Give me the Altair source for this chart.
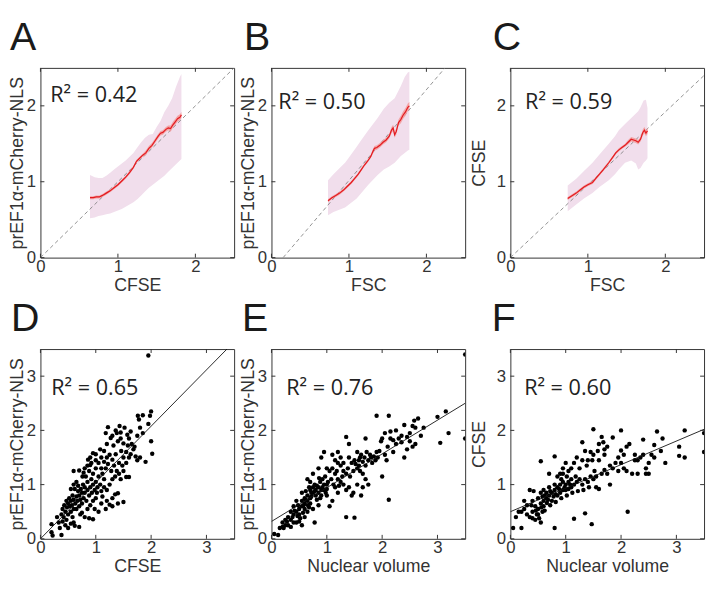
import altair as alt
import pandas as pd

FONT_AX = "Liberation Sans"
FONT_TXT = "Open Sans"
W, H = 197, 193
TXT = "#333333"

# ---------------- top row data (binned means) ----------------
A_LINE_X = [0.64, 0.68, 0.72, 0.76, 0.80, 0.85, 0.90, 0.95, 1.00, 1.05, 1.10, 1.15, 1.20, 1.24, 1.28, 1.32,
            1.36, 1.40, 1.44, 1.48, 1.52, 1.55, 1.58, 1.62, 1.65, 1.68, 1.71, 1.74, 1.77, 1.80, 1.82]
A_LINE_Y = [0.79, 0.79, 0.80, 0.80, 0.82, 0.85, 0.88, 0.92, 0.96, 1.01, 1.06, 1.12, 1.19, 1.27, 1.31, 1.35,
            1.38, 1.44, 1.48, 1.54, 1.60, 1.64, 1.65, 1.69, 1.71, 1.70, 1.75, 1.79, 1.83, 1.85, 1.88]
A_CI = [0.02, 0.02, 0.02, 0.02, 0.02, 0.02, 0.02, 0.02, 0.02, 0.02, 0.02, 0.02, 0.02, 0.02, 0.02, 0.02,
        0.03, 0.03, 0.03, 0.03, 0.03, 0.03, 0.03, 0.03, 0.03, 0.04, 0.04, 0.04, 0.04, 0.04, 0.04]
A_BAND_X = [0.64, 0.70, 0.75, 0.80, 0.85, 0.90, 0.95, 1.00, 1.05, 1.10, 1.15, 1.20, 1.25, 1.30, 1.35, 1.40,
            1.45, 1.50, 1.55, 1.60, 1.65, 1.70, 1.75, 1.80, 1.82]
A_BAND_HI = [1.09, 1.06, 1.05, 1.05, 1.08, 1.12, 1.16, 1.20, 1.24, 1.28, 1.33, 1.38, 1.45, 1.52, 1.58, 1.62,
             1.63, 1.72, 1.80, 1.92, 2.00, 2.10, 2.25, 2.38, 2.42]
A_BAND_LO = [0.52, 0.53, 0.55, 0.56, 0.57, 0.58, 0.60, 0.62, 0.64, 0.67, 0.70, 0.73, 0.77, 0.82, 0.87, 0.92,
             0.96, 1.00, 1.04, 1.08, 1.13, 1.18, 1.23, 1.28, 1.30]
A_DASH = [(0.0, 0.0), (2.5, 2.5)]

B_LINE_X = [0.73, 0.78, 0.83, 0.88, 0.93, 0.98, 1.03, 1.08, 1.12, 1.16, 1.20, 1.24, 1.28, 1.31, 1.33, 1.36,
            1.40, 1.44, 1.48, 1.52, 1.55, 1.57, 1.59, 1.61, 1.64, 1.67, 1.70, 1.73, 1.76, 1.78]
B_LINE_Y = [0.75, 0.79, 0.82, 0.85, 0.89, 0.94, 0.99, 1.05, 1.10, 1.16, 1.22, 1.27, 1.33, 1.40, 1.44, 1.45,
            1.48, 1.52, 1.55, 1.60, 1.68, 1.71, 1.62, 1.66, 1.78, 1.82, 1.88, 1.92, 1.98, 2.00]
B_CI = [0.02, 0.02, 0.02, 0.02, 0.02, 0.02, 0.02, 0.02, 0.02, 0.02, 0.02, 0.02, 0.02, 0.03, 0.03, 0.03,
        0.03, 0.03, 0.03, 0.03, 0.04, 0.04, 0.04, 0.04, 0.04, 0.05, 0.05, 0.05, 0.05, 0.05]
B_BAND_X = [0.73, 0.80, 0.90, 0.95, 1.00, 1.10, 1.16, 1.25, 1.37, 1.45, 1.52, 1.59, 1.67, 1.72, 1.76, 1.78]
B_BAND_HI = [1.02, 1.10, 1.20, 1.25, 1.32, 1.46, 1.55, 1.68, 1.84, 1.96, 2.04, 2.10, 2.26, 2.38, 2.44, 2.45]
B_BAND_LO = [0.56, 0.60, 0.64, 0.66, 0.70, 0.78, 0.85, 0.96, 1.09, 1.16, 1.20, 1.25, 1.34, 1.38, 1.41, 1.42]
B_DASH = [(0.15, 0.0), (2.24, 2.5)]

C_LINE_X = [0.74, 0.80, 0.85, 0.90, 0.95, 1.00, 1.06, 1.10, 1.15, 1.20, 1.27, 1.32, 1.36, 1.40, 1.44, 1.48,
            1.52, 1.56, 1.59, 1.62, 1.65, 1.68, 1.71, 1.73, 1.75, 1.77]
C_LINE_Y = [0.78, 0.82, 0.85, 0.89, 0.93, 0.96, 0.99, 1.04, 1.10, 1.16, 1.25, 1.32, 1.38, 1.42, 1.45, 1.48,
            1.52, 1.56, 1.55, 1.54, 1.52, 1.56, 1.65, 1.68, 1.64, 1.67]
C_CI = [0.02, 0.02, 0.02, 0.02, 0.02, 0.02, 0.02, 0.02, 0.02, 0.02, 0.02, 0.02, 0.02, 0.02, 0.02, 0.02,
        0.03, 0.03, 0.03, 0.03, 0.03, 0.03, 0.04, 0.04, 0.04, 0.04]
C_BAND_X = [0.74, 0.85, 0.95, 1.06, 1.15, 1.27, 1.35, 1.40, 1.48, 1.56, 1.62, 1.65, 1.68, 1.72, 1.75, 1.77]
C_BAND_HI = [0.95, 1.04, 1.14, 1.25, 1.36, 1.50, 1.60, 1.68, 1.76, 1.84, 1.90, 1.93, 1.98, 2.07, 2.08, 1.97]
C_BAND_LO = [0.61, 0.70, 0.78, 0.85, 0.93, 1.02, 1.10, 1.16, 1.25, 1.28, 1.24, 1.16, 1.18, 1.25, 1.28, 1.31]
C_DASH = [(0.0, 0.0), (2.5, 2.4)]

# ---------------- bottom row data (single cells) ----------------
D_POINTS = [
    (1.95, 3.38),
    (2.00, 2.35), (1.98, 2.27), (1.85, 2.28), (1.76, 2.27), (1.78, 2.20), (1.95, 2.12), (2.00, 1.80), (2.02, 1.57),
    (1.90, 1.42), (1.80, 1.50), (1.75, 1.45), (1.72, 1.52),
    (1.63, 1.98), (1.60, 1.85), (1.57, 1.92), (1.52, 2.05), (1.43, 2.08), (1.45, 1.96), (1.36, 2.00), (1.22, 2.06),
    (1.18, 1.95), (1.27, 1.86), (1.32, 1.72), (1.40, 1.80), (1.50, 1.76), (1.58, 1.72), (1.63, 1.56), (1.50, 1.50),
    (1.42, 1.40), (1.46, 1.62), (1.36, 1.56), (1.30, 1.46), (1.20, 1.50), (1.10, 1.50), (1.00, 1.56), (0.95, 1.58),
    (0.90, 1.50), (0.86, 1.46), (0.90, 1.36), (0.80, 1.30), (0.70, 1.26), (0.60, 1.25), (0.76, 1.15),
    (1.60, 1.14), (1.55, 1.14), (1.40, 0.84), (1.35, 0.82), (1.40, 0.65), (1.50, 0.68), (1.30, 0.75), (1.25, 0.63),
    (1.20, 0.70), (1.10, 0.65), (1.05, 0.50), (0.95, 0.36), (0.88, 0.38),
    (1.65, 1.75), (1.68, 1.65), (1.55, 1.60), (1.48, 1.35), (1.38, 1.25), (1.33, 1.35), (1.28, 1.25), (1.25, 1.55),
    (1.22, 1.38), (1.18, 1.30), (1.15, 1.42), (1.12, 1.20), (1.15, 1.10), (1.10, 1.30), (1.08, 1.00), (1.05, 1.40),
    (1.05, 1.15), (1.03, 0.95), (1.00, 1.30), (1.00, 1.05), (0.98, 0.90), (0.95, 1.20), (0.95, 1.00), (0.93, 0.85),
    (0.92, 1.10), (0.90, 0.95), (0.88, 1.25), (0.88, 0.80), (0.85, 1.05), (0.85, 0.90), (0.83, 0.70), (0.82, 1.15),
    (0.80, 0.85), (0.80, 0.95), (0.78, 0.75), (0.77, 1.00), (0.75, 0.65), (0.75, 0.85), (0.73, 0.92), (0.72, 0.72),
    (0.70, 0.80), (0.70, 0.60), (0.68, 0.88), (0.67, 0.70), (0.65, 0.55), (0.65, 0.78), (0.63, 0.65), (0.62, 0.92),
    (0.60, 0.72), (0.60, 0.55), (0.58, 0.80), (0.57, 0.62), (0.55, 0.70), (0.55, 0.50), (0.53, 0.60), (0.52, 0.75),
    (0.50, 0.65), (0.50, 0.45), (0.48, 0.58), (0.47, 0.70), (0.45, 0.50), (0.43, 0.62), (0.42, 0.40), (0.40, 0.55),
    (0.38, 0.45),
    (0.20, 0.27), (0.20, 0.12), (0.22, 0.06), (0.30, 0.40), (0.35, 0.20), (0.38, 0.07), (0.40, 0.32), (0.45, 0.25),
    (0.50, 0.20), (0.55, 0.28), (0.60, 0.30), (0.62, 0.24), (0.70, 0.22), (0.72, 0.45), (0.80, 0.40), (0.85, 0.55),
    (0.90, 0.62), (0.95, 0.70), (1.00, 0.75), (1.02, 0.85), (1.10, 0.88), (1.15, 0.95), (1.20, 0.90), (1.25, 1.00),
    (1.30, 1.10), (1.35, 1.15), (1.42, 1.20), (1.45, 1.10), (1.50, 1.25), (1.55, 1.40), (1.60, 1.50), (1.70, 1.70),
    (1.75, 1.90), (1.80, 2.05), (1.85, 1.95), (1.45, 1.85), (1.38, 1.95), (1.30, 1.90), (1.20, 1.75), (1.15, 1.62),
    (1.08, 1.65), (1.00, 1.45), (0.92, 1.40), (0.85, 1.35), (0.65, 1.05), (0.60, 1.00), (0.55, 0.92), (0.68, 0.98),
    (0.78, 1.22), (1.12, 0.78), (1.18, 0.55), (1.30, 0.60), (0.98, 0.55), (0.75, 0.48), (0.58, 0.40), (0.47, 0.35),
    (0.33, 0.30),
]
D_FIT = [(0.0, 0.0), (3.37, 3.5)]

E_POINTS = [
    (3.50, 3.40), (3.50, 1.85), (0.05, 0.09), (0.12, 0.07), (2.12, 0.72), (1.35, 0.40), (1.50, 0.39), (1.90, 2.27),
    (2.12, 2.27),
    (3.05, 1.77), (3.00, 2.25), (3.15, 2.35), (3.20, 1.95), (2.75, 2.05), (2.65, 2.22), (2.58, 2.18), (2.55, 2.08),
    (2.50, 1.95), (2.45, 1.88), (2.40, 2.10), (2.35, 1.90), (2.30, 1.85), (2.25, 1.75), (2.20, 1.82), (2.15, 1.98),
    (2.05, 1.95), (2.00, 1.85), (1.98, 1.80), (1.95, 1.62), (2.05, 1.55), (2.00, 1.15), (2.40, 1.50), (2.45, 1.65),
    (2.60, 1.75), (2.70, 1.90), (2.25, 2.00), (2.55, 1.70), (2.10, 1.70), (2.20, 1.60), (2.08, 1.45), (2.60, 2.05),
    (2.35, 1.78), (2.15, 1.85), (2.50, 1.80), (1.92, 1.50), (1.88, 1.45),
    (1.70, 1.85), (1.55, 1.60), (1.60, 1.50), (1.65, 1.42), (1.70, 1.35), (1.75, 1.45), (1.80, 1.50), (1.85, 1.52),
    (1.50, 1.45), (1.45, 1.40), (1.40, 1.50), (1.55, 1.30), (1.60, 1.25), (1.65, 1.20), (1.70, 1.10), (1.75, 1.00),
    (1.65, 0.95), (1.55, 1.00), (1.48, 0.85), (1.45, 0.80), (1.62, 0.80), (1.40, 0.95), (1.35, 1.20), (1.30, 1.25),
    (1.25, 1.35), (1.20, 1.40), (1.15, 1.45), (1.30, 1.40), (1.35, 1.88), (1.40, 1.75), (1.20, 1.60), (1.25, 1.50),
    (1.10, 1.30), (1.05, 1.25), (1.00, 1.30), (1.15, 1.20), (1.20, 1.10), (1.25, 1.05), (1.30, 1.00), (1.35, 0.90),
    (1.20, 0.85), (1.15, 0.95), (1.10, 0.70), (1.05, 0.60), (1.00, 0.80), (0.95, 1.60), (0.90, 1.50), (0.85, 1.30),
    (1.10, 1.55), (1.58, 1.45), (1.62, 1.55), (1.68, 1.50), (1.52, 1.38), (1.58, 1.35), (1.72, 1.60), (1.78, 1.55),
    (1.48, 1.25), (1.42, 1.15), (1.38, 1.30), (1.28, 1.15), (1.18, 1.25), (1.08, 1.10), (1.02, 1.05), (1.12, 1.00),
    (1.22, 0.98), (1.82, 1.40), (1.90, 1.60),
    (0.40, 0.60), (0.45, 0.50), (0.50, 0.55), (0.50, 0.45), (0.55, 0.60), (0.55, 0.70), (0.60, 0.65), (0.60, 0.75),
    (0.60, 0.55), (0.65, 0.80), (0.65, 0.70), (0.70, 0.90), (0.70, 0.75), (0.70, 0.65), (0.75, 0.85), (0.75, 0.95),
    (0.78, 1.00), (0.80, 0.80), (0.80, 0.90), (0.85, 0.95), (0.85, 0.85), (0.88, 1.05), (0.90, 0.90), (0.90, 0.80),
    (0.95, 1.00), (0.95, 0.90), (1.00, 1.00), (1.00, 0.92), (0.65, 1.10), (0.70, 1.05), (0.75, 1.20), (0.55, 0.85),
    (0.45, 0.70), (0.40, 0.45), (0.35, 0.35), (0.30, 0.40), (0.25, 0.35), (0.20, 0.30), (0.30, 0.25), (0.25, 0.25),
    (0.20, 0.22), (0.15, 0.20), (0.35, 0.22), (0.45, 0.30), (0.50, 0.32), (0.55, 0.25), (0.60, 0.40), (0.52, 0.38),
    (0.40, 0.30), (0.78, 0.30), (0.65, 0.50), (0.75, 0.55), (0.85, 0.62), (0.62, 0.88), (0.68, 0.95), (0.72, 0.78),
    (0.82, 0.98), (0.88, 0.75), (0.92, 1.10), (0.98, 0.85), (0.58, 0.62), (0.48, 0.62), (0.42, 0.52), (0.38, 0.40),
    (0.62, 0.72), (0.68, 0.58), (0.72, 0.85), (0.82, 0.72), (0.92, 0.95), (0.97, 1.15), (0.86, 1.12), (0.78, 0.88),
    (0.66, 0.62), (0.57, 0.48), (0.47, 0.42), (0.35, 0.50), (0.28, 0.32), (0.22, 0.20),
]
E_FIT = [(0.0, 0.32), (3.5, 2.50)]

F_POINTS = [
    (0.05, 0.20), (0.20, 0.20), (0.80, 0.20), (1.47, 0.27), (1.15, 0.37), (1.35, 0.47), (2.12, 0.50), (3.50, 1.60),
    (3.50, 1.95), (3.15, 2.00), (2.65, 1.98), (1.50, 2.02), (2.00, 2.00),
    (3.05, 1.70), (3.05, 1.53), (3.15, 1.50), (2.80, 1.40), (2.72, 1.62), (2.60, 1.73), (2.55, 1.55), (2.50, 1.40),
    (2.50, 1.20), (2.45, 1.30), (2.40, 1.83), (2.40, 1.55), (2.35, 1.50), (2.30, 1.20), (2.25, 1.45), (2.20, 1.20),
    (2.15, 1.75), (2.10, 1.70), (2.05, 1.55), (2.00, 1.63), (2.05, 1.30), (2.10, 1.25), (1.95, 1.50), (1.90, 1.40),
    (1.85, 1.30), (1.80, 1.35), (1.80, 1.00), (1.75, 1.20), (1.70, 1.27), (1.65, 1.20), (1.60, 1.45), (1.55, 1.15),
    (1.60, 0.92), (1.55, 0.95), (2.60, 1.50), (2.75, 1.85), (2.45, 1.20), (2.25, 1.55), (2.30, 1.45), (2.00, 1.40),
    (1.95, 1.25),
    (1.30, 1.78), (1.40, 1.45), (1.45, 1.60), (1.50, 1.55), (1.60, 1.75), (1.65, 1.88), (1.70, 1.65), (1.75, 1.70),
    (1.85, 1.87), (1.70, 1.55), (1.35, 1.62), (1.30, 1.45), (1.20, 1.50), (1.15, 1.40), (1.10, 1.30), (1.00, 1.40),
    (0.95, 1.30), (0.80, 1.52), (0.55, 1.43), (0.70, 1.20), (1.68, 1.78), (1.58, 1.62), (1.48, 1.45), (1.38, 1.35),
    (1.25, 1.30), (1.05, 1.25), (0.90, 1.20), (0.85, 1.15),
    (0.40, 0.50), (0.40, 0.70), (0.45, 0.60), (0.50, 0.55), (0.50, 0.45), (0.50, 0.75), (0.55, 0.65), (0.55, 0.85),
    (0.60, 0.70), (0.60, 0.60), (0.60, 0.90), (0.65, 0.75), (0.65, 0.85), (0.70, 0.80), (0.70, 0.95), (0.75, 0.85),
    (0.75, 0.70), (0.80, 0.90), (0.80, 1.00), (0.85, 0.95), (0.85, 0.80), (0.90, 1.00), (0.90, 0.85), (0.95, 1.05),
    (0.95, 0.90), (1.00, 1.00), (1.00, 0.90), (1.05, 1.05), (1.10, 1.10), (1.10, 0.95), (1.15, 1.00), (1.20, 1.05),
    (1.25, 1.10), (1.30, 1.00), (1.35, 1.10), (1.40, 1.05), (1.45, 1.15), (1.50, 1.10), (1.52, 1.25), (1.42, 0.95),
    (1.32, 0.90), (1.22, 0.88), (1.12, 0.85), (1.02, 0.80), (0.92, 0.75), (0.82, 0.68), (0.72, 0.62), (0.62, 0.52),
    (0.52, 0.38), (0.58, 0.78), (0.68, 0.72), (0.78, 0.78), (0.88, 0.92), (0.98, 0.95), (1.08, 1.00), (1.18, 1.15),
    (0.66, 0.66), (0.56, 0.58), (0.46, 0.52), (0.72, 0.88), (0.82, 0.82), (0.92, 1.10), (1.02, 1.15), (0.62, 0.80),
    (0.95, 1.20), (1.05, 0.92),
    (0.10, 0.40), (0.15, 0.50), (0.20, 0.50), (0.25, 0.55), (0.30, 0.45), (0.35, 0.40), (0.40, 0.38), (0.25, 0.70),
    (0.35, 0.90), (0.45, 0.35), (0.55, 0.30), (0.30, 0.62), (0.38, 0.62), (0.48, 0.45), (0.58, 0.50), (0.42, 0.88),
]
F_FIT = [(0.0, 0.50), (3.5, 2.02)]

TOP_TICKS = [0, 1, 2]
BOTTOM_TICKS = [0, 1, 2, 3]


def make_encoders(dom, ticks, xt, yt, tpad):
    def xe(field):
        return alt.X(f"{field}:Q", scale=alt.Scale(domain=dom, nice=False, zero=False),
                     axis=alt.Axis(values=ticks, title=xt, format="d"))

    def ye(field):
        return alt.Y(f"{field}:Q", scale=alt.Scale(domain=dom, nice=False, zero=False),
                     axis=alt.Axis(values=ticks, title=yt, format="d", titlePadding=tpad))
    return xe, ye


def tick_layers(ticks, xe, ye):
    df = pd.DataFrame({"t": ticks})
    base = alt.Chart(df).mark_rule(color="#333", strokeWidth=1)
    return [
        base.encode(x=xe("t"), y=alt.value(H), y2=alt.value(H - 4)),
        base.encode(x=xe("t"), y=alt.value(0), y2=alt.value(4)),
        base.encode(y=ye("t"), x=alt.value(0), x2=alt.value(4)),
        base.encode(y=ye("t"), x=alt.value(W), x2=alt.value(W - 4)),
    ]


def text_layer(txt, tx, ty, size, color, font):
    return alt.Chart(pd.DataFrame({"s": [txt]})).mark_text(
        align="left", baseline="alphabetic", font=font, fontSize=size, color=color
    ).encode(text="s:N", x=alt.value(tx), y=alt.value(ty))


def letter_layer(let, ldx):
    return text_layer(let, ldx, -18, 40, "#1a1a1a", FONT_AX)


def top_panel(lx, ly, ci, bx, bhi, blo, dash, xt, yt, r2, tpos, let, ldx, tpad):
    xe, ye = make_encoders([0, 2.5], TOP_TICKS, xt, yt, tpad)
    band = pd.DataFrame({"x": bx, "hi": bhi, "lo": blo})
    line = pd.DataFrame({"x": lx, "y": ly, "ci": ci})
    line["yl"] = line["y"] - line["ci"]
    line["yh"] = line["y"] + line["ci"]
    dsh = pd.DataFrame(dash, columns=["x", "y"])
    l_band = alt.Chart(band).mark_area(color="#f1deec", opacity=1, clip=True).encode(
        x=xe("x"), y=ye("lo"), y2="hi:Q")
    l_dash = alt.Chart(dsh).mark_line(color="#777", strokeWidth=0.8, strokeDash=[4, 3], clip=True).encode(
        x=xe("x"), y=ye("y"))
    l_ci = alt.Chart(line).mark_area(color="#f39a9a", opacity=0.85, clip=True).encode(
        x=xe("x"), y=ye("yl"), y2="yh:Q")
    l_line = alt.Chart(line).mark_line(color="#e3191f", strokeWidth=1.2, clip=True).encode(
        x=xe("x"), y=ye("y"))
    layers = [l_band, l_dash, l_ci, l_line,
              text_layer(r2, tpos[0], tpos[1], 22, "#222", FONT_TXT),
              letter_layer(let, ldx)] + tick_layers(TOP_TICKS, xe, ye)
    return alt.layer(*layers).properties(width=W, height=H)


def bottom_panel(points, fit, xt, yt, r2, tpos, let, ldx, tpad):
    xe, ye = make_encoders([0, 3.5], BOTTOM_TICKS, xt, yt, tpad)
    pts = pd.DataFrame(points, columns=["x", "y"])
    fd = pd.DataFrame(fit, columns=["x", "y"])
    l_pts = alt.Chart(pts).mark_circle(color="#000", opacity=1, size=20, clip=True).encode(x=xe("x"), y=ye("y"))
    l_fit = alt.Chart(fd).mark_line(color="#111", strokeWidth=0.9, clip=True).encode(x=xe("x"), y=ye("y"))
    layers = [l_pts, l_fit,
              text_layer(r2, tpos[0], tpos[1], 22, "#222", FONT_TXT),
              letter_layer(let, ldx)] + tick_layers(BOTTOM_TICKS, xe, ye)
    return alt.layer(*layers).properties(width=W, height=H)


pA = top_panel(A_LINE_X, A_LINE_Y, A_CI, A_BAND_X, A_BAND_HI, A_BAND_LO, A_DASH,
               "CFSE", "prEF1α-mCherry-NLS", "R² = 0.42", (10, 35), "A", -31, 0)
pB = top_panel(B_LINE_X, B_LINE_Y, B_CI, B_BAND_X, B_BAND_HI, B_BAND_LO, B_DASH,
               "FSC", "prEF1α-mCherry-NLS", "R² = 0.50", (7, 42), "B", -28, 0)
pC = top_panel(C_LINE_X, C_LINE_Y, C_CI, C_BAND_X, C_BAND_HI, C_BAND_LO, C_DASH,
               "FSC", "CFSE", "R² = 0.59", (15, 42), "C", -18, 8)
pD = bottom_panel(D_POINTS, D_FIT, "CFSE", "prEF1α-mCherry-NLS", "R² = 0.65", (11, 47), "D", -30, 0)
pE = bottom_panel(E_POINTS, E_FIT, "Nuclear volume", "prEF1α-mCherry-NLS", "R² = 0.76", (15, 47), "E", -30, 0)
pF = bottom_panel(F_POINTS, F_FIT, "Nuclear volume", "CFSE", "R² = 0.60", (14, 47), "F", -19, 8)

top = alt.hconcat(pA, pB, pC, spacing=4)
bottom = alt.hconcat(pD, pE, pF, spacing=4)

chart = alt.vconcat(top, bottom, spacing=4).properties(
    padding={"left": 0, "top": 5, "right": 2, "bottom": 0}
).configure_view(
    stroke="#333", strokeWidth=1
).configure_axis(
    ticks=False, domain=False, grid=False, labelFlush=False,
    labelFont=FONT_AX, titleFont=FONT_AX, labelFontSize=17, titleFontSize=18,
    labelColor=TXT, titleColor=TXT, titleFontWeight="normal",
    labelPadding=2, titlePadding=2
).configure_axisX(
    labelPadding=1, titlePadding=2
).configure_axisY(
    labelPadding=5
)

chart.save("out.html", embed_options={"renderer": "svg", "actions": False})
